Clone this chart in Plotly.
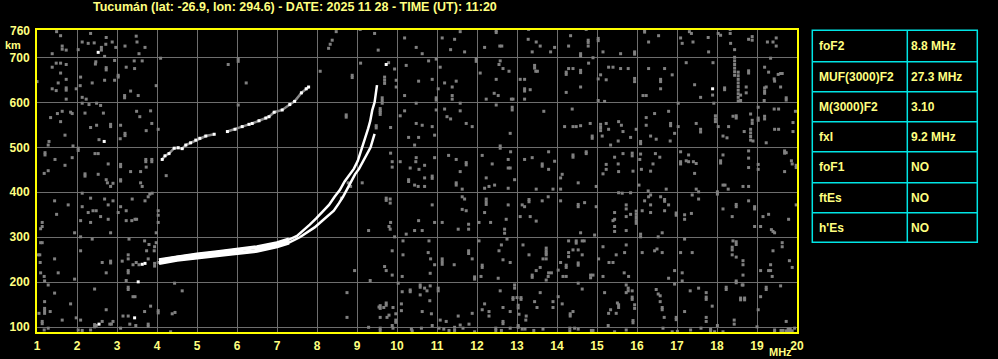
import plotly.graph_objects as go

# ---------------- data ----------------
title_text = "Tucumán (lat: -26.9, lon: 294.6) - DATE: 2025 11 28 - TIME (UT): 11:20"
freq_ticks = list(range(1, 21))
height_ticks = [100, 200, 300, 400, 500, 600, 700]

# ordinary trace
o_f = [4.05, 4.5, 5.0, 5.5, 6.0, 6.5, 7.0, 7.3, 7.5, 7.65, 7.82, 7.98, 8.15, 8.3, 8.44,
       8.57, 8.69, 8.8, 8.92, 9.02, 9.12, 9.2, 9.28, 9.33, 9.38, 9.44, 9.5]
o_h = [249, 256, 262, 267, 272, 278, 287, 295, 303, 314, 328, 342, 357, 372, 390,
       405, 424, 438, 452, 470, 500, 520, 542, 558, 582, 600, 638]
# extraordinary trace
x_f = [4.05, 4.5, 5.0, 5.5, 6.0, 6.5, 7.0, 7.3, 7.57, 7.78, 7.94, 8.11, 8.28, 8.42, 8.55,
       8.65, 8.8, 8.95, 9.05, 9.11, 9.17, 9.22, 9.34, 9.4, 9.44]
x_h = [243, 250, 255, 260, 265, 270, 280, 288, 300, 312, 322, 335, 347, 359, 376,
       390, 415, 440, 452, 462, 473, 481, 500, 518, 530]
# second hop trace (None = gap)
f2_f = [4.13, 4.2, 4.3, 4.43, 4.53, 4.63, 4.72, 4.84, 4.97, 5.07, 5.22, 5.43, None,
        5.76, 5.95, 6.13, 6.3, 6.38, 6.55, 6.72, 6.8, 6.93, 7.13, 7.32, 7.44, 7.61, 7.73, 7.79]
f2_h = [473, 481, 486, 498, 499, 497, 505, 510, 516, 520, 525, 529, None,
        535, 540, 546, 551, 553, 559, 565, 568, 578, 583, 595, 602, 621, 630, 634]

noise_points = [
    (1.49,757),(1.59,748),(1.63,725),(1.63,718),(1.73,716),(1.38,708),(2.34,753),(2.13,734),(2.28,731),(2.43,732),
    (2.73,744),(2.88,734),(2.61,722),(2.61,716),(2.72,729),(2.97,722),(2.03,717),(2.69,702),(2.94,693),(3.48,747),
    (3.5,734),(3.7,722),(3.2,725),(3.55,708),(4.09,698),(1.38,678),(1.48,687),(1.59,687),(1.73,684),(1.59,665),
    (1.73,651),(1.53,643),(1.73,632),(1.73,627),(1.38,630),(1.48,626),(1.98,630),(1.0,646),(1.73,607),(2.47,690),
    (2.46,685),(2.73,677),(2.73,672),(2.09,656),(2.08,637),(2.38,643),(2.69,649),(2.94,649),(3.03,660),(3.03,656),
    (2.13,611),(2.23,607),(3.23,678),(3.43,692),(3.63,692),(3.44,675),(3.34,625),(3.53,615),(3.19,615),(3.19,610),
    (3.98,637),(5.78,684),(6.03,697),(6.03,691),(6.23,643),(6.03,594),(2.13,598),(2.3,595),(2.49,598),(2.59,593),
    (1.63,580),(1.51,575),(1.34,566),(1.84,578),(1.88,575),(1.59,557),(2.2,576),(2.66,576),(2.34,544),(2.49,549),
    (2.84,551),(2.84,546),(3.09,549),(3.2,531),(3.2,526),(3.49,580),(3.57,568),(3.84,581),(3.87,553),(3.73,537),
    (3.08,519),(4.03,540),(1.7,527),(2.55,517),(1.3,513),(1.28,505),(1.9,503),(2.03,498),(2.03,493),(1.2,488),
    (1.2,483),(1.45,473),(1.88,477),(2.45,486),(2.53,486),(2.78,463),(3.09,462),(3.09,457),(3.34,446),(3.59,446),
    (3.72,473),(3.72,468),(3.87,473),(3.87,468),(3.73,456),(1.7,460),(1.28,448),(1.18,442),(2.2,441),(2.2,436),
    (2.53,440),(2.73,428),(3.09,428),(4.23,437),
    (8.48,757),(9.08,762),(9.44,753),(8.38,738),(8.33,729),(8.29,720),(9.53,716),(10.19,743),(10.48,722),(10.63,708),
    (11.13,743),(11.44,740),(11.58,757),(11.34,717),(11.69,712),(12.48,759),(12.48,755),(12.19,722),(12.57,725),(12.62,725),
    (13.29,762),(13.28,740),(13.48,734),(13.58,725),(13.38,712),(8.08,669),(8.88,660),(8.88,655),(9.09,687),(9.94,674),
    (9.98,649),(9.98,634),(10.23,682),(10.54,647),(10.19,615),(10.79,692),(10.98,696),(10.88,651),(11.08,678),(11.19,643),
    (11.38,634),(11.38,615),(11.38,607),(11.48,647),(11.03,630),(10.98,610),(10.98,605),(11.98,697),(11.98,691),(12.08,665),
    (12.23,607),(12.43,620),(12.53,615),(12.48,651),(12.58,692),(12.65,675),(12.55,684),(12.8,669),(12.86,607),(12.9,607),
    (13.08,651),(13.19,651),(13.19,630),(13.19,625),(13.33,628),(13.19,607),(13.44,682),(13.44,676),(13.47,669),(13.51,669),
    (8.73,572),(8.73,567),(9.58,578),(9.58,573),(9.84,544),(10.08,570),(10.19,581),(10.48,598),(10.48,553),(10.63,549),
    (10.29,522),(10.54,522),(10.44,505),(10.88,546),(10.94,527),(10.98,583),(11.19,585),(11.25,568),(11.34,563),(11.58,598),
    (11.58,581),(11.73,553),(11.88,546),(12.48,594),(12.88,589),(12.88,583),(12.83,531),(12.58,503),(12.58,498),(13.67,580),
    (9.84,487),(10.08,468),(9.88,468),(9.88,456),(10.33,454),(10.47,468),(10.55,451),(10.69,460),(10.48,477),(10.94,477),
    (10.88,436),(10.88,431),(10.69,432),(10.29,428),(11.29,482),(11.48,473),(11.73,466),(11.73,461),(11.58,446),(12.13,482),
    (12.38,463),(12.78,473),(12.84,490),(12.83,454),(12.78,454),(13.19,473),(13.38,477),(13.63,463),(13.63,458),(12.23,432),
    (12.94,428),
    (9.48,548),(9.48,543),(9.58,581),(9.58,586),(9.63,610),(9.63,604),(9.63,598),(9.69,656),(9.69,649),(9.69,642),(9.79,688),
    (14.34,748),(14.73,762),(14.78,738),(14.78,733),(14.78,725),(15.03,742),(15.03,737),(14.29,725),(13.94,722),(13.84,712),
    (14.59,708),(14.59,703),(15.15,712),(15.59,708),(15.94,712),(15.94,707),(16.19,761),(16.19,756),(16.29,734),(16.54,748),
    (17.09,743),(17.13,731),(17.31,757),(17.36,753),(17.4,734),(17.78,744),(17.79,712),(18.03,753),(18.09,749),(18.33,762),
    (18.33,753),(18.34,731),(18.44,717),(18.79,740),(18.88,746),(18.88,738),(19.26,734),(19.4,734),(19.48,743),(19.48,725),
    (19.34,698),(14.79,687),(14.9,699),(14.29,675),(14.4,675),(14.23,667),(14.23,662),(14.59,671),(14.59,666),(14.23,622),
    (14.59,634),(15.09,661),(15.03,652),(15.23,650),(15.29,678),(15.4,678),(15.59,675),(15.78,675),(15.94,653),(15.94,646),
    (16.29,675),(16.69,675),(16.88,661),(16.59,651),(16.59,646),(16.59,630),(16.15,615),(16.23,615),(15.03,604),(15.19,602),
    (17.23,688),(17.44,639),(17.59,611),(17.9,688),(17.89,616),(18.19,632),(18.19,628),(18.44,700),(18.44,692),(18.44,684),
    (18.44,676),(18.44,668),(18.44,660),(18.53,667),(18.53,659),(18.53,651),(18.53,643),(18.53,635),(18.53,627),(18.53,619),
    (18.53,611),(18.53,603),(18.73,634),(18.73,621),(18.79,670),(18.79,665),(18.59,616),(18.59,604),(19.19,678),(19.29,667),
    (19.43,652),(19.44,647),(19.53,662),(19.59,664),(19.63,664),(19.19,632),(19.19,625),(19.19,620),(19.23,634),(19.59,634),
    (19.73,610),(19.73,605),(19.18,604),(19.03,589),(19.96,580),(19.9,555),(17.03,598),(17.92,598),(14.38,585),(14.19,546),
    (14.4,546),(14.48,546),(14.59,548),(14.83,553),(14.88,525),(14.88,520),(15.09,551),(15.09,544),(15.09,537),(15.13,525),
    (15.23,553),(15.29,540),(15.54,557),(15.61,549),(15.65,535),(15.84,522),(15.34,505),(15.53,514),(15.98,540),(16.09,513),
    (16.09,508),(16.23,566),(16.44,575),(16.79,580),(16.23,549),(16.34,525),(16.48,518),(16.84,553),(16.84,548),(16.94,531),
    (16.83,514),(17.03,546),(17.48,553),(17.59,540),(17.59,534),(17.96,570),(17.96,563),(17.96,557),(18.03,546),(18.15,525),
    (18.25,521),(18.29,546),(18.4,569),(18.48,570),(18.48,565),(18.68,535),(18.84,574),(18.88,560),(18.88,553),(18.84,540),
    (18.84,532),(18.84,524),(18.84,516),(18.9,514),(19.03,565),(19.03,560),(19.19,569),(19.19,563),(19.43,585),(19.54,585),
    (19.44,540),(19.54,540),(19.9,535),(19.23,510),(13.79,490),(13.94,469),(13.79,451),(14.13,440),(14.09,432),(14.4,483),
    (14.4,478),(14.73,490),(14.73,486),(15.23,462),(15.23,451),(15.15,441),(15.44,478),(15.53,463),(15.65,486),(15.54,446),
    (15.88,487),(15.88,481),(15.9,447),(16.09,485),(16.07,473),(16.11,451),(16.34,447),(16.4,463),(16.46,486),(16.57,478),
    (17.09,490),(17.09,468),(17.09,463),(17.23,470),(17.29,468),(17.29,483),(17.41,468),(17.48,464),(17.44,442),(18.09,470),
    (18.09,465),(18.15,483),(18.79,492),(18.79,476),(18.79,455),(19.03,462),(19.03,451),(19.69,492),(19.69,487),(19.73,488),
    (19.86,470),(19.88,463),(19.69,446),(19.98,460),(19.98,455),
    (2.76,421),(2.84,413),(2.9,420),(3.59,421),(3.63,413),(3.09,425),(3.82,396),(3.78,390),(3.88,398),(2.13,398),
    (1.44,381),(1.78,372),(1.49,351),(2.34,387),(2.13,368),(2.28,355),(2.4,359),(2.48,359),(2.69,385),(2.78,372),
    (2.9,381),(2.59,346),(3.03,355),(3.09,368),(3.23,359),(3.38,385),(3.7,381),(3.23,337),(3.37,337),(3.45,340),
    (3.49,340),(4.03,359),(4.03,349),(4.03,333),(2.09,337),(2.34,333),(2.78,340),(1.13,333),(1.13,324),(1.09,319),
    (1.94,310),(2.09,301),(2.84,310),(3.98,310),(2.38,296),(3.3,296),(1.09,288),(1.13,288),(3.69,292),(3.8,284),
    (3.94,279),(3.93,270),(3.74,270),(3.98,288),(1.03,261),(1.07,261),(1.44,252),(1.08,244),(2.09,270),(2.63,244),
    (2.84,247),(2.84,243),(3.13,247),(3.28,261),(3.28,252),(3.48,244),(3.4,239),(3.55,239),(3.78,252),(3.94,242),
    (3.94,236),(4.03,244),(3.28,226),(3.28,221),(2.73,221),(1.53,221),(1.09,221),(1.18,213),(1.19,203),(1.94,207),
    (1.28,194),(3.23,204),(4.44,198),(4.63,181),(2.44,185),(3.28,189),(3.28,184),(1.44,176),(3.4,168),(3.45,168),
    (1.84,152),(1.19,157),(1.19,142),(1.19,137),(3.84,147),(2.73,139),(4.03,137),(4.03,132),(1.33,135),(1.05,131),
    (1.19,131),(4.38,130),(4.45,133),(3.69,135),(3.15,125),(3.28,125),(3.32,107),(3.78,107),(3.78,102),(3.47,104),
    (2.9,113),(2.82,107),(2.86,107),(2.63,113),(2.44,106),(2.44,101),(2.48,104),(1.63,116),(1.13,113),(1.13,108),
    (1.28,98),(1.98,121),(2.09,116),(2.34,94),(2.03,94),(2.13,93),(3.09,98),(4.34,90),(1.18,94),
    (8.78,421),(8.84,413),(8.61,387),(9.13,421),(10.53,413),(10.44,416),(10.69,413),(10.29,424),(11.48,421),(11.48,416),
    (11.63,407),(12.3,413),(12.19,409),(12.44,416),(12.78,409),(13.48,407),(9.73,387),(9.73,382),(9.83,385),(9.83,376),
    (10.88,372),(11.63,390),(11.69,385),(11.63,362),(11.73,359),(12.23,385),(12.23,379),(12.23,373),(12.19,355),(12.78,372),
    (13.13,372),(13.19,368),(13.3,384),(13.3,379),(13.63,381),(13.48,336),(13.08,346),(13.33,346),(12.73,340),(12.34,333),
    (12.05,333),(11.79,329),(11.79,318),(11.53,318),(11.13,333),(10.94,333),(10.54,337),(9.84,333),(9.8,324),(9.83,318),
    (9.29,315),(10.23,307),(10.44,315),(10.63,315),(9.94,301),(12.69,318),(12.69,309),(12.75,296),(12.05,292),(10.15,292),
    (10.8,292),(10.78,266),(9.88,270),(10.15,261),(11.13,252),(11.13,246),(11.13,240),(11.43,239),(10.84,252),(11.79,270),
    (11.79,264),(11.88,252),(12.13,238),(12.13,233),(12.61,283),(12.55,270),(12.65,250),(12.83,244),(13.15,283),(13.3,261),
    (13.65,252),(13.48,226),(13.58,233),(13.38,216),(13.38,211),(9.69,235),(9.73,226),(8.94,226),(9.33,204),(9.88,216),
    (10.13,213),(10.83,220),(10.94,239),(11.94,212),(11.94,207),(12.1,213),(12.53,209),(10.03,198),(10.13,179),(10.33,183),
    (10.33,179),(10.58,194),(10.58,189),(10.69,187),(10.75,181),(10.83,192),(11.03,187),(11.03,181),(10.58,172),(10.82,159),
    (8.75,177),(9.73,154),(9.73,149),(9.58,148),(9.58,142),(9.55,145),(9.67,144),(10.11,152),(10.11,137),(9.9,144),
    (9.97,130),(9.58,122),(9.75,122),(9.8,127),(9.97,116),(9.97,111),(8.75,122),(10.63,135),(10.86,130),(11.08,116),
    (11.23,113),(11.53,125),(11.58,105),(11.8,107),(11.88,131),(12.13,139),(12.3,135),(12.3,125),(12.19,152),(12.58,181),
    (12.65,144),(12.83,135),(13.03,149),(13.03,143),(12.94,187),(12.94,194),(13.05,129),(13.23,125),(13.22,116),(13.44,157),
    (13.5,144),(13.58,177),(12.65,113),(12.65,108),(13.03,104),(13.03,100),(9.58,98),(9.58,93),(9.29,100),(9.88,104),
    (9.9,98),(10.36,96),(10.38,92),(10.61,98),(10.88,104),(11.05,98),(11.17,96),(11.3,93),(11.44,100),(11.44,93),
    (11.65,98),(12.47,98),(12.47,93),(12.61,93),(12.83,98),(13.13,96),(13.2,96),(13.42,93),(13.65,96),(11.94,90),
    (12.9,166),(13.0,166),(13.1,166),(12.9,162),(13.1,162),
    (13.9,407),(14.09,407),(14.53,421),(14.98,413),(15.54,399),(15.63,398),(15.84,399),(16.05,416),(16.28,403),(16.34,394),
    (16.73,407),(17.48,407),(17.54,401),(18.01,401),(18.01,396),(18.15,416),(18.2,416),(18.28,407),(18.65,413),(18.79,413),
    (13.78,390),(14.09,381),(14.53,373),(14.53,368),(14.69,377),(14.98,368),(15.73,372),(15.73,363),(15.84,351),(15.73,346),
    (15.44,355),(15.4,337),(15.44,340),(15.98,358),(15.98,351),(15.98,344),(15.98,337),(15.98,331),(16.19,381),(16.29,390),
    (16.34,372),(16.13,359),(16.34,355),(16.59,390),(16.69,384),(16.69,380),(16.79,372),(16.69,359),(16.98,354),(16.98,349),
    (17.19,350),(17.19,340),(17.38,394),(17.54,385),(17.36,353),(18.15,363),(18.48,373),(18.48,368),(18.79,381),(18.94,368),
    (18.94,363),(18.38,346),(19.15,346),(19.29,351),(19.79,340),(19.98,372),(14.94,305),(14.59,310),(15.44,324),(15.44,313),
    (15.73,315),(16.09,307),(16.09,301),(16.63,310),(16.53,301),(17.19,296),(18.94,324),(19.09,324),(19.36,317),(19.44,310),
    (19.4,313),(13.73,276),(13.73,270),(13.73,265),(13.73,261),(13.73,252),(14.29,292),(14.48,292),(14.48,287),(14.63,292),
    (14.68,292),(14.4,272),(14.29,266),(14.29,257),(14.53,272),(14.63,261),(14.09,244),(14.23,238),(14.23,233),(14.53,243),
    (14.53,238),(13.79,221),(13.86,221),(14.03,227),(14.15,213),(14.23,213),(13.78,213),(13.73,205),(14.84,216),(14.9,216),
    (14.84,210),(15.04,252),(15.15,279),(15.48,261),(15.3,244),(15.4,244),(15.69,266),(15.73,283),(15.68,221),(15.79,213),
    (15.15,213),(16.13,266),(16.44,270),(16.5,274),(16.63,266),(16.79,209),(16.94,226),(16.94,196),(17.09,266),(17.38,266),
    (17.13,221),(17.13,203),(18.4,292),(18.48,290),(18.48,284),(18.38,278),(18.38,272),(18.38,261),(18.48,256),(18.65,248),
    (18.65,239),(18.65,216),(18.48,203),(18.48,199),(18.65,194),(19.09,226),(19.34,239),(19.34,226),(19.29,226),(19.38,213),
    (19.4,270),(19.63,288),(19.63,279),(19.81,248),(19.88,233),(14.53,198),(14.63,185),(14.03,168),(13.9,157),(13.9,144),
    (14.13,152),(14.33,130),(14.33,125),(14.4,135),(15.19,177),(15.51,154),(15.54,150),(15.54,144),(15.34,139),(15.29,131),
    (15.48,131),(15.73,194),(15.78,187),(15.78,181),(15.88,181),(15.73,177),(15.88,167),(15.88,162),(15.94,150),(15.94,142),
    (15.9,115),(15.9,110),(16.48,184),(16.53,174),(16.58,170),(16.58,157),(16.63,144),(16.63,139),(16.68,122),(16.98,122),
    (16.98,117),(17.33,181),(17.54,187),(17.19,135),(17.73,177),(17.73,167),(17.73,162),(17.88,147),(17.73,122),(17.73,113),
    (18.23,189),(18.23,184),(18.63,194),(18.59,161),(18.69,161),(18.59,165),(18.69,165),(18.43,116),(18.43,107),(18.01,104),
    (19.23,189),(19.23,184),(19.09,168),(19.59,192),(19.03,139),(19.73,113),(14.32,98),(14.32,92),(14.44,98),(14.53,96),
    (14.86,93),(14.9,93),(15.28,104),(15.44,90),(15.73,94),(16.65,98),(16.88,90),(17.01,91),(17.34,94),(17.6,98),
    (17.84,96),(17.84,92),(17.94,90),(18.15,90),(19.0,101),(19.44,94),(19.44,90),(19.6,93),(19.65,93),(19.73,92),
    (19.78,92),(19.83,92),(19.88,92),(19.78,96),(19.83,96),(19.94,98),
]
white_points = [(3.63, 240), (3.7, 242), (3.53, 201), (3.44, 121), (2.55, 107), (2.53, 711),
                (2.68, 513), (9.73, 684), (17.89, 630)]

table_params = ["foF2", "MUF(3000)F2", "M(3000)F2", "fxI", "foF1", "ftEs", "h'Es"]
table_values = ["8.8 MHz", "27.3 MHz", "3.10", "9.2 MHz", "NO", "NO", "NO"]

# ---------------- styling ----------------
W, H = 998, 359
PL, PR, PT, PB = 36, 798, 29, 333
TXT = "#ffff80"
BORDER = "#ffff00"
CYAN = "#00e5e5"
GRID = "#6e6e6e"
FONT = "Liberation Sans"
BAND_MAX_F = 7.4   # where the merged O/X band is drawn thicker


def xp(px):
    return (px - PL) / (PR - PL)


def yp(py):
    return (PB - py) / (PB - PT)


noise_f = [p[0] for p in noise_points]
noise_h = [p[1] for p in noise_points]
white_f = [p[0] for p in white_points]
white_h = [p[1] for p in white_points]

fig = go.Figure()
fig.add_trace(go.Scatter(x=noise_f, y=noise_h, mode="markers",
                         marker=dict(symbol="square", size=3, color="#808080", line=dict(width=0)),
                         hoverinfo="skip"))
fig.add_trace(go.Scatter(x=white_f, y=white_h, mode="markers",
                         marker=dict(symbol="square", size=3, color="#ffffff", line=dict(width=0)),
                         hoverinfo="skip"))
fig.add_trace(go.Scatter(x=f2_f, y=f2_h, mode="lines", line=dict(color="#8a8a8a", width=2.5),
                         connectgaps=False, hoverinfo="skip"))
fig.add_trace(go.Scatter(x=f2_f, y=f2_h, mode="markers",
                         marker=dict(symbol="square", size=3, color="#ffffff", line=dict(width=0)),
                         hoverinfo="skip"))
# thin full traces
fig.add_trace(go.Scatter(x=x_f, y=x_h, mode="lines", line=dict(color="#ffffff", width=2.5),
                         hoverinfo="skip"))
fig.add_trace(go.Scatter(x=o_f, y=o_h, mode="lines", line=dict(color="#ffffff", width=2.5),
                         hoverinfo="skip"))
# thicker merged low-frequency band
lo_x = [(f, h) for f, h in zip(x_f, x_h) if f <= BAND_MAX_F]
lo_o = [(f, h) for f, h in zip(o_f, o_h) if f <= BAND_MAX_F]
fig.add_trace(go.Scatter(x=[p[0] for p in lo_x], y=[p[1] for p in lo_x], mode="lines",
                         line=dict(color="#ffffff", width=4), hoverinfo="skip"))
fig.add_trace(go.Scatter(x=[p[0] for p in lo_o], y=[p[1] for p in lo_o], mode="lines",
                         line=dict(color="#ffffff", width=4), hoverinfo="skip"))

tickfont = dict(family=FONT, size=12, color=TXT, weight="bold")
fig.update_xaxes(range=[0.975, 20.025], tickvals=freq_ticks, ticktext=[str(v) for v in freq_ticks],
                 showgrid=True, gridcolor=GRID, gridwidth=1, zeroline=False, showline=False,
                 ticks="outside", ticklen=2, tickcolor="#000000", tickfont=tickfont,
                 automargin=False)
fig.update_yaxes(range=[87.3, 762.9], tickvals=height_ticks, ticktext=[str(v) for v in height_ticks],
                 showgrid=True, gridcolor=GRID, gridwidth=1, zeroline=False, showline=False,
                 ticks="outside", ticklen=3, tickcolor="#000000", tickfont=tickfont,
                 automargin=False)

shapes = [dict(type="rect", xref="paper", yref="paper", x0=0, x1=1, y0=0, y1=1,
               line=dict(color=BORDER, width=2), fillcolor="rgba(0,0,0,0)", layer="above")]
annotations = []

# table
t_left, t_mid, t_right = 812.3, 907.3, 977.3
row_edges = [30.3, 61.7, 91.7, 121.7, 151.7, 182.7, 212.7, 242.3]
shapes.append(dict(type="rect", xref="paper", yref="paper", x0=xp(t_left), x1=xp(t_right),
                   y0=yp(row_edges[-1]), y1=yp(row_edges[0]), line=dict(color=CYAN, width=1.5)))
shapes.append(dict(type="line", xref="paper", yref="paper", x0=xp(t_mid), x1=xp(t_mid),
                   y0=yp(row_edges[-1]), y1=yp(row_edges[0]), line=dict(color=CYAN, width=1.5)))
for e in row_edges[1:-1]:
    shapes.append(dict(type="line", xref="paper", yref="paper", x0=xp(t_left), x1=xp(t_right),
                       y0=yp(e), y1=yp(e), line=dict(color=CYAN, width=1.5)))
cellfont = dict(family=FONT, size=12, color=TXT, weight="bold")
for i, (p, v) in enumerate(zip(table_params, table_values)):
    yc = (row_edges[i] + row_edges[i + 1]) / 2
    annotations.append(dict(x=xp(817), y=yp(yc), xref="paper", yref="paper", text=p,
                            showarrow=False, xanchor="left", yanchor="middle", font=cellfont))
    annotations.append(dict(x=xp(909), y=yp(yc), xref="paper", yref="paper", text=v,
                            showarrow=False, xanchor="left", yanchor="middle", font=cellfont))

# title and axis labels
annotations.append(dict(x=xp(91), y=yp(7), xref="paper", yref="paper", text=title_text,
                        showarrow=False, xanchor="left", yanchor="middle",
                        font=dict(family=FONT, size=12.5, color=TXT, weight="bold")))
annotations.append(dict(x=xp(32), y=yp(30.5), xref="paper", yref="paper", text="760",
                        showarrow=False, xanchor="right", yanchor="middle", font=tickfont))
annotations.append(dict(x=xp(13), y=yp(45), xref="paper", yref="paper", text="km",
                        showarrow=False, xanchor="center", yanchor="middle",
                        font=dict(family=FONT, size=11, color=TXT, weight="bold")))
annotations.append(dict(x=xp(780), y=yp(351.5), xref="paper", yref="paper", text="MHz",
                        showarrow=False, xanchor="center", yanchor="middle",
                        font=dict(family=FONT, size=11, color=TXT, weight="bold")))

fig.update_layout(width=W, height=H, margin=dict(l=PL, r=W - PR, t=PT, b=H - PB, pad=0),
                  paper_bgcolor="#000000", plot_bgcolor="#000000", showlegend=False,
                  shapes=shapes, annotations=annotations)

fig.write_html("out.html")
